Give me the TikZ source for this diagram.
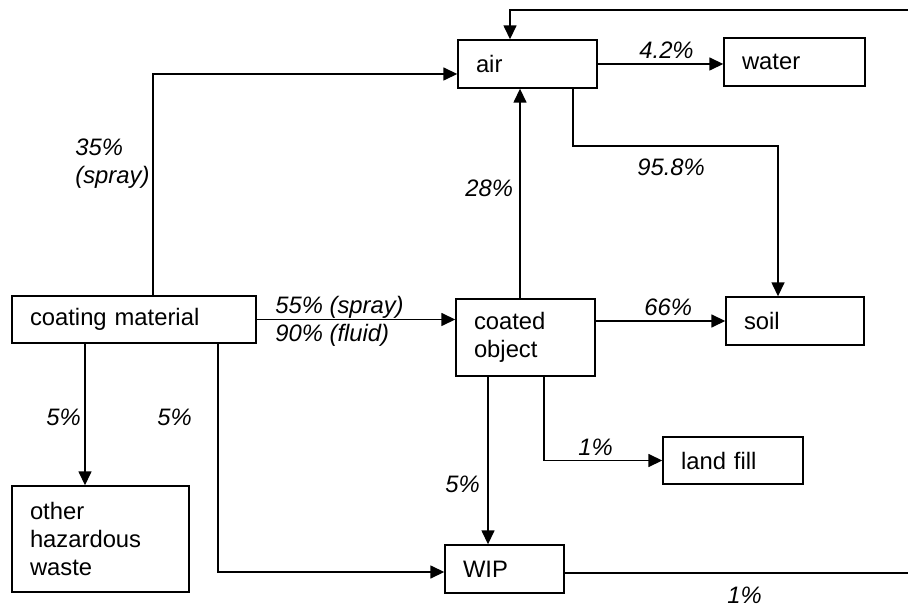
\documentclass[tikz,border=0pt]{standalone}
\usepackage{fontspec}
\setmainfont{Liberation Sans}
\usetikzlibrary{arrows.meta}

\begin{document}
\begin{tikzpicture}[
x=0.5pt, y=-0.5pt,
font=\fontsize{11.9}{14.15}\selectfont,
box/.style={draw, line width=0.7pt, align=left, inner xsep=9pt, inner ysep=0pt},
pct/.style={font=\fontsize{11.9}{14.15}\selectfont\itshape, inner sep=0pt, align=left},
arrow/.style={-{Triangle[length=7pt, width=6.5pt]}, line width=0.75pt}
]
\useasboundingbox (0,0) rectangle (908,608);

\node[box, text width=51.5pt, minimum height=24pt] (air) at (527.5,64) {air};
\node[box, text width=52.5pt, minimum height=24pt] (water) at (794.5,62) {water};
\node[box, text width=104pt, minimum height=23.5pt] (coating) at (134,319.5) {coating material};
\node[box, text width=51.5pt, minimum height=38.5pt] (coated) at (525.5,337.5) {coated\\object};
\node[box, text width=51pt, minimum height=24pt] (soil) at (795,321) {soil};
\node[box, text width=52pt, minimum height=23.5pt] (landfill) at (733,460.5) {land fill};
\node[box, text width=70.5pt, minimum height=53pt] (other) at (100.5,539) {other\\hazardous\\waste};
\node[box, text width=41.5pt, minimum height=24pt] (wip) at (504.5,569) {WIP};
\coordinate (airsoil) at (778,146);
\coordinate (loop) at (912,10);

\draw[arrow] ([xshift=9.5pt]coating.north) |- ([yshift=-5pt]air.west);
\draw[arrow] (air.east) -- (air.east -| water.west);
\draw[arrow] ([xshift=22.75pt]air.south) |- (airsoil) -- (airsoil |- soil.north);
\draw[arrow] (coating.east) -- (coating.east -| coated.west);
\draw[arrow] ([xshift=-2.75pt]coated.north) -- ([xshift=-2.75pt]coated.north |- air.south);
\draw[arrow] (coated.east |- soil.west) -- (soil.west);
\draw[arrow] ([xshift=9.25pt]coated.south) |- (landfill.west);
\draw[arrow] ([xshift=-18.75pt]coated.south) -- ([xshift=-18.75pt]coated.south |- wip.north);
\draw[arrow] ([xshift=-24.5pt]coating.south) -- ([xshift=-24.5pt]coating.south |- other.north);
\draw[arrow] ([xshift=42pt]coating.south) |- ([yshift=-1.5pt]wip.west);
\draw[arrow] ([yshift=-2pt]wip.east) -| (loop) -| ([xshift=-8.75pt]air.north);

% flow shares
\node[pct, anchor=west] (l35) at (75,164) {35\%\\(spray)};
\node[pct, anchor=west] (l55) at (275,321) {55\% (spray)\\90\% (fluid)};
\node[pct, anchor=base west] (l42) at (639,59) {4.2\%};
\node[pct, anchor=base west] (l958) at (637,176) {95.8\%};
\node[pct, anchor=base west] (l28) at (465,197) {28\%};
\node[pct, anchor=base west] (l66) at (644,316) {66\%};
\node[pct, anchor=base west] (l1a) at (578,455) {1\%};
\node[pct, anchor=base west] (l5c) at (445,492) {5\%};
\node[pct, anchor=base west] (l5a) at (46,425) {5\%};
\node[pct, anchor=base west] (l5b) at (157,425) {5\%};
\node[pct, anchor=base west] (l1b) at (727,603) {1\%};
\end{tikzpicture}
\end{document}
